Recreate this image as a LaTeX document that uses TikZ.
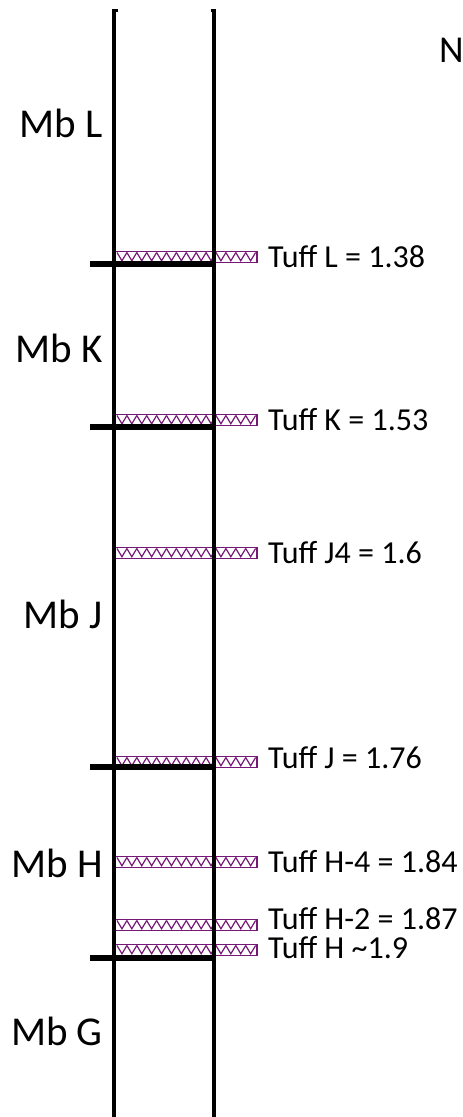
\documentclass[tikz,border=0pt]{standalone}
\usepackage{fontspec}
\setmainfont{Carlito}
\definecolor{tuffpurple}{RGB}{118,24,118}

% a tuff bed: outlined band filled with downward-pointing triangles
\newcommand\tuffbed[1]{%
  \draw[tuffbox] (115,#1-5.5) rectangle (257,#1+5.5);
  \foreach \i in {0,...,13}{%
    \draw[tuffzig] ({117+\i*9.9},#1-4.5) -- ({117+\i*9.9+4.95},#1+3.8) -- ({117+(\i+1)*9.9},#1-4.5);
  }%
}

\begin{document}
\begin{tikzpicture}[x=1pt,y=-1pt,
  column/.style={line width=3.5pt},
  contact/.style={line width=6pt},
  tuffbox/.style={draw=tuffpurple,line width=1.6pt},
  tuffzig/.style={draw=tuffpurple,line width=1.2pt,line join=miter},
  unitlabel/.style={anchor=base east,inner sep=0pt,font=\fontsize{41}{44}\selectfont},
  tufflabel/.style={anchor=base west,inner sep=0pt,text height=0.68em,text depth=0pt,
    font=\fontsize{32}{34}\selectfont}]

\useasboundingbox (0,0) rectangle (463,1117);

% tuff beds
\tuffbed{257}
\tuffbed{420}
\tuffbed{553}
\tuffbed{762}
\tuffbed{862}
\tuffbed{925}
\tuffbed{950}

% column walls
\draw[column,line join=miter] (117.5,10.5) -- (114,10.5) -- (114,1117);
\draw[column,line join=miter] (210.5,10.5) -- (214,10.5) -- (214,1117);

% unit contacts
\coordinate (cL1) at (90,264);  \coordinate (cL2) at (213,264);
\coordinate (cK1) at (90,427);  \coordinate (cK2) at (213,427);
\coordinate (cJ1) at (90,767);  \coordinate (cJ2) at (213,767);
\coordinate (cH1) at (90,958);  \coordinate (cH2) at (213,958);
\draw[contact] (cL1) -- (cL2);
\draw[contact] (cK1) -- (cK2);
\draw[contact] (cJ1) -- (cJ2);
\draw[contact] (cH1) -- (cH2);

% member labels
\node[unitlabel] (mbL) at (103,137) {Mb L};
\node[unitlabel] (mbK) at (103,362) {Mb K};
\node[unitlabel] (mbJ) at (103,628) {Mb J};
\node[unitlabel] (mbH) at (103,877) {Mb H};
\node[unitlabel] (mbG) at (103,1045) {Mb G};

% tuff labels
\node[tufflabel] (tL)  at (268,267) {Tuff L = 1.38};
\node[tufflabel] (tK)  at (268,430) {Tuff K = 1.53};
\node[tufflabel] (tJ4) at (268,563) {Tuff J4 = 1.6};
\node[tufflabel] (tJ)  at (268,768) {Tuff J = 1.76};
\node[tufflabel] (tH4) at (268,872) {Tuff H-4 = 1.84};
\node[tufflabel] (tH2) at (268,929) {Tuff H-2 = 1.87};
\node[tufflabel] (tH)  at (268,958) {Tuff H \textasciitilde1.9};

% north marker
\node[anchor=base west,inner sep=0pt,font=\fontsize{38}{42}\selectfont] (north) at (439,62) {N};
\end{tikzpicture}
\end{document}
